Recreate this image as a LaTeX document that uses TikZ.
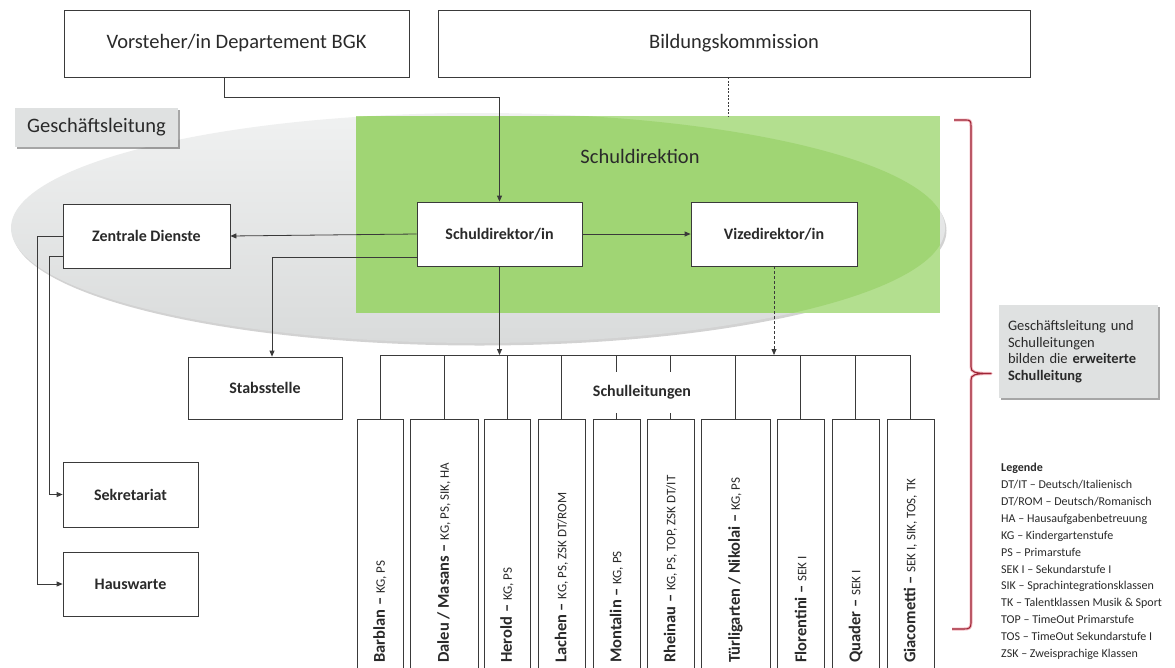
\documentclass[tikz,border=0pt]{standalone}
\usepackage{fontspec}
\setmainfont{Carlito}
\usetikzlibrary{arrows.meta,shadows,calc}
\definecolor{ln}{HTML}{3A3A3A}
\definecolor{txt}{HTML}{2A2A2A}
\definecolor{ellT}{HTML}{F0F1F1}
\definecolor{ellB}{HTML}{D9DBDB}
\definecolor{grn}{HTML}{A0D574}
\definecolor{grnl}{HTML}{B3DF8F}
\definecolor{labelgray}{HTML}{DFE1E1}
\definecolor{brk}{HTML}{9E2536}
\definecolor{brkh}{HTML}{F2B8C0}
\begin{document}
\begin{tikzpicture}[x=1pt,y=-1pt,
  box/.style={draw=ln, line width=0.8pt, fill=white, text=txt, inner sep=0pt},
  bigtxt/.style={font=\fontsize{20.5}{24}\selectfont},
  boldtxt/.style={font=\fontsize{16}{19}\selectfont\bfseries},
  colbox/.style={draw=ln, line width=0.8pt, fill=white, minimum height=253, inner sep=0pt},
  coltext/.style={rotate=90, anchor=west, inner sep=0pt, text=txt, font=\fontsize{16.5}{19}\selectfont\bfseries},
  arr/.style={draw=ln, line width=0.8pt, -{Triangle[length=6pt,width=5pt]}},
  conn/.style={draw=ln, line width=0.8pt},
  dsh/.style={draw=ln, line width=0.7pt, dash pattern=on 2pt off 1.5pt},
  shadowed/.style={drop shadow={shadow xshift=2pt, shadow yshift=-2pt, opacity=0.35, fill=black}},
]
\useasboundingbox (0,0) rectangle (1175,667);
\fill[white] (0,0) rectangle (1175,667);

% ellipse (Geschaeftsleitung) with shadow
\fill[gray!35] (479.5,230.5) ellipse [x radius=467, y radius=115];
\shade[top color=ellT, bottom color=ellB] (478,228) ellipse [x radius=467, y radius=115];

% green Schuldirektion area
\fill[grnl] (356,116) rectangle (940,313);
\begin{scope}
  \clip (478,228) ellipse [x radius=467, y radius=115];
  \fill[grn] (356,116) rectangle (940,313);
\end{scope}

% labels of areas
\node[fill=labelgray, shadowed, minimum width=163, minimum height=39, inner sep=0pt, text=txt, bigtxt] (gl) at (96.5,127.5) {Geschäftsleitung};
\node[text=txt, bigtxt, inner sep=0pt] (sdir) at (640,156) {Schuldirektion};

% top boxes
\node[box, bigtxt, minimum width=345, minimum height=67] (vor) at (236.5,43.5) {Vorsteher/in Departement BGK};
\node[box, bigtxt, minimum width=592, minimum height=67] (bk) at (734,43.5) {Bildungskommission};

% management boxes
\node[box, boldtxt, minimum width=167, minimum height=64] (zd) at (146.5,236) {Zentrale Dienste};
\node[box, boldtxt, minimum width=165, minimum height=64] (sd) at (499.5,234) {Schuldirektor/in};
\node[box, boldtxt, minimum width=166, minimum height=64] (vd) at (774,234) {Vizedirektor/in};
\node[box, boldtxt, minimum width=154, minimum height=62] (stab) at (265,388) {Stabsstelle};
\node[box, boldtxt, minimum width=135, minimum height=65] (sek) at (130.5,494.5) {Sekretariat};
\node[box, boldtxt, minimum width=135, minimum height=64] (hw) at (130.5,584) {Hauswarte};

\coordinate (gtop) at (728,117);
\coordinate (barY) at (0,355);

% school columns
\node[colbox, minimum width=46] (c1) at (380,545.5) {};
\node[colbox, minimum width=68] (c2) at (444,545.5) {};
\node[colbox, minimum width=46] (c3) at (507,545.5) {};
\node[colbox, minimum width=47] (c4) at (561.5,545.5) {};
\node[colbox, minimum width=47] (c5) at (616.5,545.5) {};
\node[colbox, minimum width=47] (c6) at (670.5,545.5) {};
\node[colbox, minimum width=69] (c7) at (735.5,545.5) {};
\node[colbox, minimum width=47] (c8) at (800.5,545.5) {};
\node[colbox, minimum width=47] (c9) at (855.5,545.5) {};
\node[colbox, minimum width=47] (c10) at (910.5,545.5) {};

\newcommand\cd[1]{{\fontsize{13}{15}\mdseries\selectfont #1}}
\node[coltext] (t1) at (380,663) {Barblan – \cd{KG, PS}};
\node[coltext] (t2) at (444,663) {Daleu / Masans – \cd{KG, PS, SIK, HA}};
\node[coltext] (t3) at (507,663) {Herold – \cd{KG, PS}};
\node[coltext] (t4) at (561.5,663) {Lachen – \cd{KG, PS, ZSK DT/ROM}};
\node[coltext] (t5) at (616.5,663) {Montalin – \cd{KG, PS}};
\node[coltext] (t6) at (670.5,663) {Rheinau – \cd{KG, PS, TOP, ZSK DT/IT}};
\node[coltext] (t7) at (735.5,663) {Türligarten / Nikolai – \cd{KG, PS}};
\node[coltext] (t8) at (800.5,663) {Florentini – \cd{SEK I}};
\node[coltext] (t9) at (855.5,663) {Quader – \cd{SEK I}};
\node[coltext] (t10) at (910.5,663) {Giacometti – \cd{SEK I, SIK, TOS, TK}};

% bar and stems
\draw[conn] (c1.north |- barY) -- (c10.north |- barY);
\foreach \c in {c1,c2,c3,c4,c5,c6,c7,c8,c9,c10}
  \draw[conn] (\c.north |- barY) -- (\c.north);
\node[fill=white, inner sep=0pt, minimum width=112, minimum height=41, text=txt, font=\fontsize{16}{19}\selectfont\bfseries] (sl) at (642,392.5) {Schulleitungen};

% connectors
\draw[arr] ([xshift=-12.5pt]vor.south) -- ++(0,20) -| (sd.north);
\draw[dsh] ([xshift=-6pt]bk.south) -- (gtop);
\draw[arr] (sd.west) -- (zd.east);
\draw[arr] (sd.east) -- (vd.west);
\draw[arr] ([yshift=-23pt]sd.west) -| ([xshift=7pt]stab.north);
\draw[arr] (sd.south) -- (sd.south |- barY);
\draw[arr, dash pattern=on 3pt off 2pt] (vd.south) -- (vd.south |- barY);
\draw[arr] (zd.west) -- ++(-25,0) |- (hw.west);
\draw[arr] ([yshift=-20pt]zd.west) -- ++(-13,0) |- (sek.west);

% red bracket
\foreach \col/\w in {brkh/3pt, brk/1.1pt}
  \draw[\col, line width=\w, line join=round]
    (954,120) -- (966,120) .. controls (970,120) and (971,121) .. (971,126)
    -- (971,367) .. controls (971,372) and (974,373.5) .. (991,373.5)
    .. controls (974,373.5) and (971,375) .. (971,380)
    -- (971,623) .. controls (971,628) and (969,629) .. (964,629) -- (952,629);

% callout
\node[fill=labelgray, shadowed, minimum width=159, minimum height=93, inner sep=0pt, text=txt,
      font=\fontsize{14.5}{16.5}\selectfont, align=left, text width=141] (call) at (1078.5,351.5)
  {Geschäftsleitung und\\Schulleitungen\\bilden die \textbf{erweiterte}\\\textbf{Schulleitung}};

% legend
\node[anchor=north west, inner sep=0pt, text=txt, align=left, font=\fontsize{12}{16.9}\selectfont] (leg) at (1001,463)
  {\textbf{Legende}\\
   DT/IT – Deutsch/Italienisch\\
   DT/ROM – Deutsch/Romanisch\\
   HA – Hausaufgabenbetreuung\\
   KG – Kindergartenstufe\\
   PS – Primarstufe\\
   SEK I – Sekundarstufe I\\
   SIK – Sprachintegrationsklassen\\
   TK – Talentklassen Musik \& Sport\\
   TOP – TimeOut Primarstufe\\
   TOS – TimeOut Sekundarstufe I\\
   ZSK – Zweisprachige Klassen};
\end{tikzpicture}
\end{document}
